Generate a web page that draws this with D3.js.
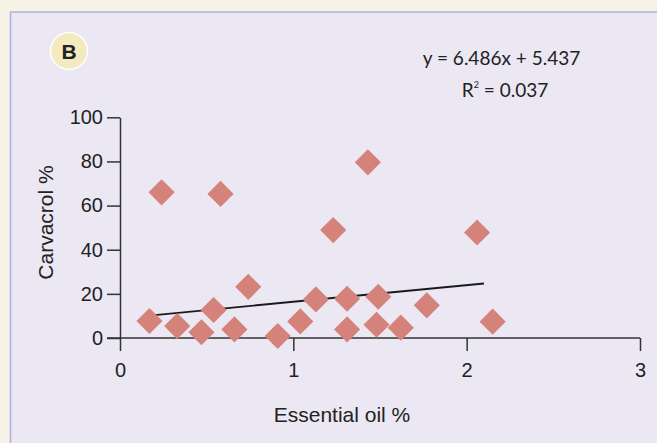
<!DOCTYPE html>
<html>
<head>
<meta charset="utf-8">
<script src="https://cdn.jsdelivr.net/npm/d3@7"></script>
<style>
  body { margin: 0; background: #f6f3e6; }
  svg { display: block; }
</style>
</head>
<body>
<div id="chart"></div>
<script>
// essential oil % vs carvacrol %
var oilPct = [0.17, 0.24, 0.33, 0.47, 0.54, 0.58, 0.66, 0.74, 0.91, 1.04, 1.13, 1.23,
  1.43, 2.06, 1.31, 1.49, 1.31, 1.48, 1.62, 1.77, 2.15]
var carvacrolPct = [7.7, 66, 5.4, 2.6, 12.7, 65.3, 3.9, 23.2, 0.9, 7.5, 17.5, 48.9,
  79.6, 47.8, 17.8, 18.7, 3.9, 6.0, 4.7, 14.8, 7.4]

// trend line as drawn
var trendX = [0.2, 2.1]
var trendY = [10.4, 24.7]

var xTicks = [0, 1, 2, 3]
var yTicks = [0, 20, 40, 60, 80, 100]

var equationText = 'y = 6.486x + 5.437'
var panelLabel = 'B'

var w = 657
var h = 443

var svg = d3.select('#chart')
  .append('svg')
  .attr('width', w)
  .attr('height', h)

// panel
svg.append('rect')
  .attr('x', 10.5)
  .attr('y', 12)
  .attr('width', w)
  .attr('height', h)
  .attr('fill', '#ebe8f3')
  .attr('stroke', '#b3aee0')
  .attr('stroke-width', 1.5)

var x = d3.scaleLinear().domain([0, 3]).range([120, 640])
var y = d3.scaleLinear().domain([0, 100]).range([338, 117.3])

var xAxis = svg.append('g')
  .attr('transform', 'translate(0,' + y(0) + ')')
  .call(d3.axisBottom(x).tickValues(xTicks).tickFormat(d3.format('d'))
    .tickSize(13).tickPadding(12).tickSizeOuter(0))

var yAxis = svg.append('g')
  .attr('transform', 'translate(' + x(0) + ',0)')
  .call(d3.axisLeft(y).tickValues(yTicks).tickFormat(d3.format('d'))
    .tickSize(13).tickPadding(4).tickSizeOuter(0))

// extend the x axis baseline to the y zero tick
xAxis.select('.domain').attr('d', 'M' + (x(0) - 13) + ',0H' + x(3))

for (let g of [xAxis, yAxis]) {
  g.selectAll('path, line')
    .attr('stroke', '#333')
    .attr('stroke-width', 1.5)
  g.selectAll('text')
    .attr('fill', '#222')
    .style('font-family', 'Liberation Sans, Arial, sans-serif')
    .style('font-size', '20px')
}

// axis titles
svg.append('text')
  .attr('x', 342)
  .attr('y', 421.5)
  .attr('text-anchor', 'middle')
  .attr('fill', '#222')
  .style('font-family', 'Liberation Sans, Arial, sans-serif')
  .style('font-size', '21px')
  .text('Essential oil %')

svg.append('text')
  .attr('transform', 'translate(53,222.5) rotate(-90)')
  .attr('text-anchor', 'middle')
  .attr('fill', '#222')
  .style('font-family', 'Liberation Sans, Arial, sans-serif')
  .style('font-size', '21px')
  .text('Carvacrol %')

// trend line
var lineFunction = d3.line()
  .x(function (d, i) { return x(trendX[i]) })
  .y(function (d, i) { return y(trendY[i]) })

svg.append('path')
  .attr('d', lineFunction(trendX))
  .attr('stroke', '#1a1a1a')
  .attr('stroke-width', 1.8)
  .attr('fill', 'none')

// diamonds
var side = 18.5
var d = [...Array(oilPct.length).keys()]
svg.selectAll('rect.pt')
  .data(d)
  .enter()
  .append('rect')
  .attr('class', 'pt')
  .attr('x', -side / 2)
  .attr('y', -side / 2)
  .attr('width', side)
  .attr('height', side)
  .attr('transform', function (i) {
    return 'translate(' + x(oilPct[i]) + ',' + y(carvacrolPct[i]) + ') rotate(45)'
  })
  .attr('fill', '#d5837a')

// equation
svg.append('text')
  .attr('x', 501.5)
  .attr('y', 65)
  .attr('text-anchor', 'middle')
  .attr('fill', '#222')
  .style('font-family', 'Lato, sans-serif')
  .style('font-size', '19px')
  .text(equationText)

var r2 = svg.append('text')
  .attr('x', 505)
  .attr('y', 96.5)
  .attr('text-anchor', 'middle')
  .attr('fill', '#222')
  .style('font-family', 'Lato, sans-serif')
  .style('font-size', '19px')
r2.append('tspan').text('R')
r2.append('tspan').attr('dy', -9).style('font-size', '9px').text('2')
r2.append('tspan').attr('dy', 9).text(' = 0.037')

// panel badge
svg.append('circle')
  .attr('cx', 69)
  .attr('cy', 51)
  .attr('r', 18.5)
  .attr('fill', '#f3ebbf')
  .attr('stroke', '#ffffff')
  .attr('stroke-width', 1.5)

svg.append('text')
  .attr('x', 69)
  .attr('y', 58.5)
  .attr('text-anchor', 'middle')
  .attr('fill', '#222')
  .style('font-family', 'Liberation Sans, Arial, sans-serif')
  .style('font-weight', 'bold')
  .style('font-size', '21px')
  .text(panelLabel)
</script>
</body>
</html>
